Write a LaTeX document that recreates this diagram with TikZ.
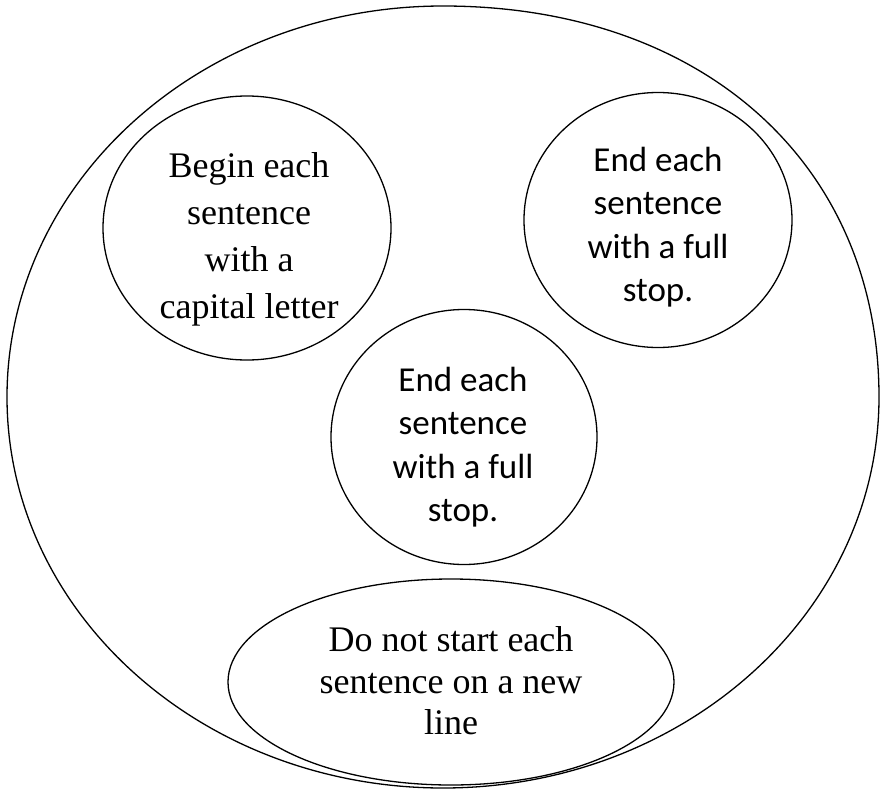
\documentclass[tikz,border=0pt]{standalone}
\usepackage{fontspec}
\setmainfont{Liberation Serif}
\newfontfamily\calibrilike{Carlito}
\usetikzlibrary{shapes.geometric}
\begin{document}
\begin{tikzpicture}[x=1pt,y=-1pt,
  outline/.style={draw=black, line width=1.3pt},
  bubble/.style={outline, ellipse, inner sep=0pt},
  seriftext/.style={align=center, inner sep=0pt, font=\fontsize{36}{47}\selectfont},
  sanstext/.style={align=center, inner sep=0pt, font=\calibrilike\fontsize{35}{43.5}\selectfont}]
  \useasboundingbox (0,0) rectangle (881,790);
  \fill[white] (0,0) rectangle (881,790);

  % outer group: a rounded oval, slightly fuller towards the upper right
  \coordinate (top) at (443,6);
  \coordinate (right) at (879,397);
  \coordinate (bottom) at (443,788);
  \coordinate (left) at (7,397);
  \draw[outline] (top) .. controls (702,6) and (879,163) .. (right)
    .. controls (879,613) and (683.8,788) .. (bottom)
    .. controls (202.2,788) and (7,613) .. (left)
    .. controls (7,181) and (202.2,6) .. (top) -- cycle;

  % rules inside the group
  \node[bubble, minimum width=288pt, minimum height=264pt] (capital) at (247,228) {};
  \node[seriftext] (capitalText) at (249,239)
    {Begin each\\ sentence\\ with a\\ capital letter};

  \node[bubble, minimum width=268pt, minimum height=255pt] (stopA) at (658,220) {};
  \node[sanstext] (stopAText) at (658,227)
    {End each\\ sentence\\ with a full\\ stop.};

  \node[bubble, minimum width=266pt, minimum height=255pt] (stopB) at (464,437) {};
  \node[sanstext] (stopBText) at (463,447)
    {End each\\ sentence\\ with a full\\ stop.};

  \node[bubble, minimum width=446pt, minimum height=206pt] (newline) at (451,682) {};
  \node[seriftext, font=\fontsize{36}{41.5}\selectfont] (newlineText) at (451,681)
    {Do not start each\\ sentence on a new\\ line};
\end{tikzpicture}
\end{document}
